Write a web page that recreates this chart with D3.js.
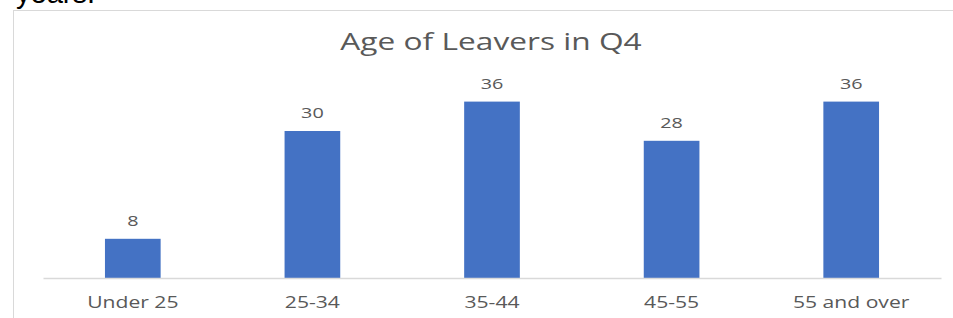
<!DOCTYPE html>
<html>
<head>
<meta charset="utf-8">
<script src="https://cdn.jsdelivr.net/npm/d3@7"></script>
<style>
  body { margin: 0; background: #fff; }
  svg { display: block; }
</style>
</head>
<body>
<script>
var categories = ["Under 25", "25-34", "35-44", "45-55", "55 and over"];
var leavers = [8, 30, 36, 28, 36];
var yMax = 40;

var width = 953, height = 318;
var stretch = 1.32; // the picture's texts are drawn wide
var font = "Open Sans, Noto Sans, sans-serif";

var svg = d3.select("body").append("svg")
  .attr("width", width)
  .attr("height", height);

// bit of the paragraph above the chart, cut off at the top
svg.append("text")
  .attr("x", 16)
  .attr("y", 3)
  .attr("font-family", "Liberation Sans, Arial, sans-serif")
  .attr("font-size", 29)
  .attr("fill", "#000")
  .text("years.");

// chart frame
svg.append("rect")
  .attr("x", 13.5)
  .attr("y", 10.5)
  .attr("width", 960)
  .attr("height", 330)
  .attr("fill", "none")
  .attr("stroke", "#d9d9d9")
  .attr("stroke-width", 1);

var x = d3.scaleBand()
  .domain(categories)
  .range([43, 941])
  .paddingInner(0.69)
  .paddingOuter(0.345);

var y = d3.scaleLinear()
  .domain([0, yMax])
  .range([278, 82]);

svg.append("text")
  .attr("transform", "translate(491,50) scale(" + stretch + ",1)")
  .attr("text-anchor", "middle")
  .attr("font-family", font)
  .attr("font-size", 24)
  .attr("fill", "#595959")
  .text("Age of Leavers in Q4");

svg.selectAll("rect.bar")
  .data(leavers)
  .enter()
  .append("rect")
  .attr("class", "bar")
  .attr("x", function(d, i) { return x(categories[i]); })
  .attr("y", function(d) { return y(d); })
  .attr("width", x.bandwidth())
  .attr("height", function(d) { return y(0) - y(d); })
  .attr("fill", "#4472c4");

svg.selectAll("text.val")
  .data(leavers)
  .enter()
  .append("text")
  .attr("class", "val")
  .attr("transform", function(d, i) {
    var cx = x(categories[i]) + x.bandwidth() / 2;
    return "translate(" + cx + "," + (y(d) - 13) + ") scale(" + stretch + ",1)";
  })
  .attr("text-anchor", "middle")
  .attr("font-family", font)
  .attr("font-size", 15)
  .attr("fill", "#595959")
  .text(function(d) { return d; });

var xAxis = svg.append("g")
  .attr("transform", "translate(0," + y(0) + ")")
  .call(d3.axisBottom(x).tickSize(0));
xAxis.select(".domain")
  .attr("stroke", "#d9d9d9")
  .attr("stroke-width", 1.5);
xAxis.selectAll(".tick text")
  .attr("y", 0)
  .attr("dy", 0)
  .attr("transform", "translate(0,30) scale(" + stretch + ",1)")
  .attr("font-family", font)
  .attr("font-size", 16)
  .attr("fill", "#595959");
</script>
</body>
</html>
